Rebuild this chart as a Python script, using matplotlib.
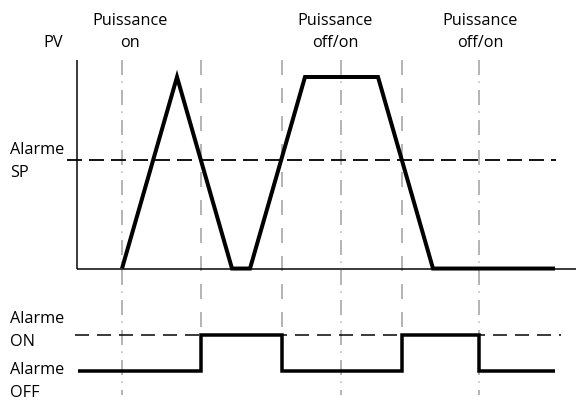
import matplotlib
matplotlib.use("Agg")
import matplotlib.pyplot as plt

plt.rcParams['lines.scale_dashes'] = False
plt.rcParams['font.family'] = ['Open Sans', 'DejaVu Sans']

# ---- data (time in arbitrary units, PV in % of range) ----
event_times = [45, 124, 205, 264, 325, 402]
event_styles = ['dashdot', 'dashed', 'dashed', 'dashdot', 'dashed', 'dashdot']
event_labels = ["Puissance\non", "Puissance\noff/on", "Puissance\noff/on"]
event_label_times = [53, 258, 403]

pv_times = [45, 100, 155, 173, 228, 301, 356, 478]
pv_values = [0, 100, 0, 0, 100, 100, 0, 0]
alarm_sp = 56.7

alarm_times = [1, 124, 205, 325, 402, 478]
alarm_states = [0, 1, 0, 1, 0, 0]

# ---- layout ----
ALARM_OFF_Y = -53.5
ALARM_ON_Y = -34.7
AXIS_TOP = 108.8
GRAY = '#a3a3a3'

fig = plt.figure(figsize=(576 / 72, 403 / 72), dpi=72)
ax = fig.add_axes([0, 0, 1, 1])
ax.set_xlim(-77, 499)
ax.set_ylim(-70.2, 140.2)
ax.axis('off')

# event vertical lines
for t, st in zip(event_times, event_styles):
    if st == 'dashdot':
        ax.plot([t, t], [AXIS_TOP, -66], color=GRAY, lw=1.6,
                dashes=(15, 6.5, 1.2, 7.3), zorder=1)
    else:
        ax.plot([t, t], [AXIS_TOP, ALARM_ON_Y], color=GRAY, lw=1.6,
                dashes=(15, 13), zorder=1)

# axes lines
ax.plot([0, 0], [0, AXIS_TOP], color='black', lw=1.5, solid_capstyle='butt', zorder=2)
ax.plot([0, 499], [0, 0], color='black', lw=1.5, solid_capstyle='butt', zorder=2)

# alarm setpoint dashed line
ax.plot([-10, 479], [alarm_sp, alarm_sp], color='black', lw=1.8,
        dashes=(15, 7), zorder=2)

# PV trace
ax.plot(pv_times, pv_values, color='black', lw=4, solid_joinstyle='miter',
        solid_capstyle='butt', zorder=3)

# alarm ON threshold dashed line
ax.plot([-2, 484], [ALARM_ON_Y, ALARM_ON_Y], color='black', lw=1.5,
        dashes=(14, 8), zorder=2)

# alarm output trace
alarm_y = [ALARM_OFF_Y + s * (ALARM_ON_Y - ALARM_OFF_Y) for s in alarm_states]
ax.plot(alarm_times, alarm_y, color='black', lw=3.5, drawstyle='steps-post',
        solid_joinstyle='miter', solid_capstyle='butt', zorder=3)

# labels
fs = 16.2
ls = 1.58
for t, lab in zip(event_label_times, event_labels):
    ax.text(t, 123.5, lab, ha='center', va='center', fontsize=fs,
            linespacing=ls)
ax.text(-24, 118, "PV", ha='center', va='center', fontsize=fs)
ax.text(-67, 56, "Alarme\nSP", ha='left', va='center', fontsize=fs,
        linespacing=ls)
ax.text(-67, -32.5, "Alarme\nON", ha='left', va='center', fontsize=fs,
        linespacing=ls)
ax.text(-67, -59, "Alarme\nOFF", ha='left', va='center', fontsize=fs,
        linespacing=ls)

fig.savefig('out.png', dpi=72)
